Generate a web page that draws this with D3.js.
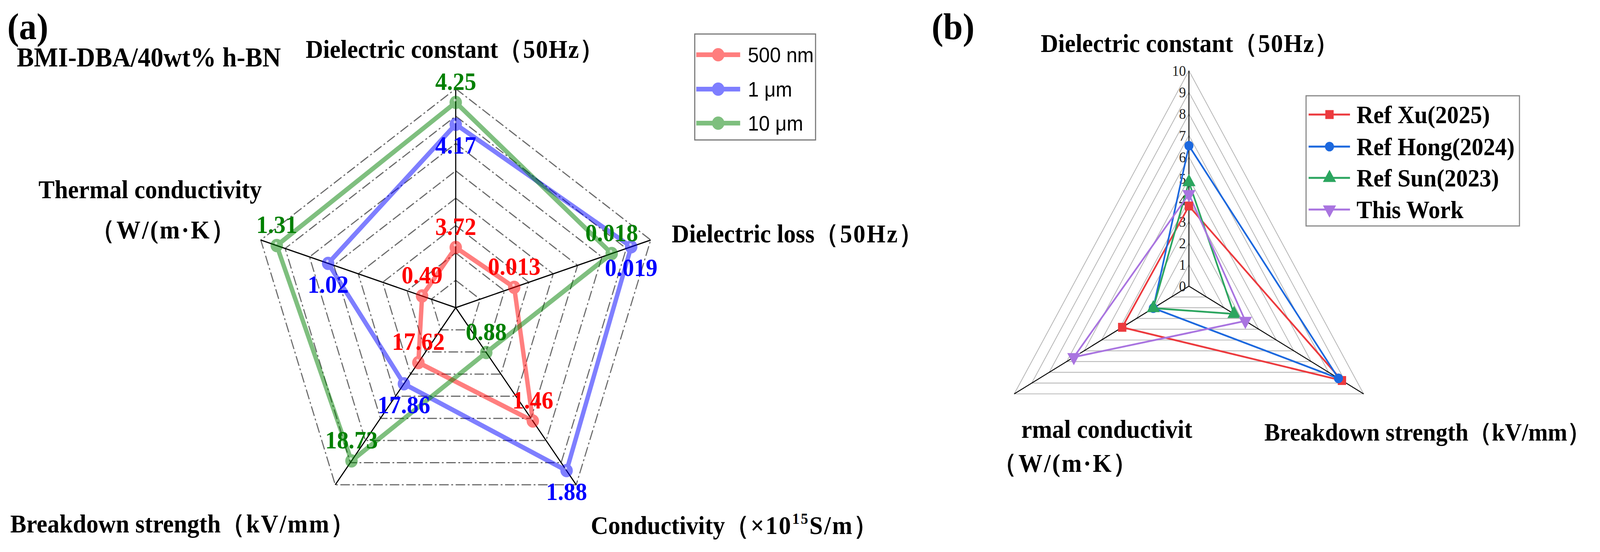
<!DOCTYPE html>
<html><head><meta charset="utf-8">
<script src="https://cdn.jsdelivr.net/npm/d3@7"></script>
<style>html,body{margin:0;padding:0;background:#fff;overflow:hidden}svg{display:block}</style>
</head><body>
<script>
// ---------------- Panel (a) data ----------------
const axesA = ["Dielectric constant", "Dielectric loss", "Conductivity", "Breakdown strength", "Thermal conductivity"];
const axisMinA = [3.5, 0.010, 0.5, 17, 0.3];
const axisMaxA = [4.3, 0.020, 2.0, 19, 1.4];
const ringCountA = 8;
const seriesA = ["500 nm", "1 μm", "10 μm"];
const values500nm = [3.72, 0.013, 1.46, 17.62, 0.49];
const values1um   = [4.17, 0.019, 1.88, 17.86, 1.02];
const values10um  = [4.25, 0.018, 0.88, 18.73, 1.31];

// ---------------- Panel (b) data ----------------
const axesB = ["Dielectric constant", "Breakdown strength", "Thermal conductivity"];
const ticksB = [0, 1, 2, 3, 4, 5, 6, 7, 8, 9, 10];
const seriesB = ["Ref Xu(2025)", "Ref Hong(2024)", "Ref Sun(2023)", "This Work"];
const valuesXu       = [3.72, 8.76, 3.82];
const valuesHong     = [6.52, 8.56, 2.04];
const valuesSun      = [4.83, 2.58, 2.04];
const valuesThisWork = [4.27, 3.23, 6.59];

// ---------------- setup ----------------
const W = 4371, H = 1412;
const serif = "'Liberation Serif','Times New Roman',serif";
const sans = "'Liberation Sans',Arial,sans-serif";
const vw = window.innerWidth || W, vh = window.innerHeight || H;
const svg = d3.select("body").append("svg").attr("width", vw).attr("height", vh)
  .attr("viewBox", `0 0 ${W} ${H}`).attr("preserveAspectRatio", "none")
  .style("background", "#fff");

const rad = d => d * Math.PI / 180;
const polyLine = d3.line().x(d => d[0]).y(d => d[1]).curve(d3.curveLinearClosed);

// bold serif label; optional parenthetical part drawn slightly more open
function label(g, x, y, main, paren, size = 66, spacing = 3.5) {
  const t = g.append("text").attr("x", x).attr("y", y)
    .attr("font-family", serif).attr("font-weight", "bold").attr("font-size", size)
    .attr("fill", "#000").text(main);
  if (paren) t.append("tspan").attr("letter-spacing", spacing).text(paren);
  return t;
}

// ================= Panel (a) =================
const A = {cx: 1245, cy: 787, R: 560};
const angA = axesA.map((d, i) => rad(-90 + i * 72));
const scalesA = axesA.map((d, i) => d3.scaleLinear().domain([axisMinA[i], axisMaxA[i]]).range([0, A.R]));
const ringA = d3.scaleLinear().domain([0, ringCountA]).range([0, A.R]);
const gA = svg.append("g");

gA.append("g").selectAll("path").data(d3.range(1, ringCountA + 1)).join("path")
  .attr("d", k => polyLine(angA.map(a => [A.cx + ringA(k) * Math.cos(a), A.cy + ringA(k) * Math.sin(a)])))
  .attr("fill", "none").attr("stroke", "#6a6a6a").attr("stroke-width", 3)
  .attr("stroke-dasharray", "26 7 5 7");
gA.append("g").selectAll("line").data(angA).join("line")
  .attr("x1", A.cx).attr("y1", A.cy)
  .attr("x2", a => A.cx + A.R * Math.cos(a)).attr("y2", a => A.cy + A.R * Math.sin(a))
  .attr("stroke", "#000").attr("stroke-width", 3);

const colA = ["#ff0000", "#0000ff", "#008000"];
const dataA = [values500nm, values1um, values10um];
const labelDy = [-32, 75, -32];
const ptA = (vals) => vals.map((v, i) => [A.cx + scalesA[i](v) * Math.cos(angA[i]), A.cy + scalesA[i](v) * Math.sin(angA[i])]);

dataA.forEach((vals, s) => {
  const g = gA.append("g").attr("opacity", 0.5);
  const pts = ptA(vals);
  g.append("path").attr("d", polyLine(pts)).attr("fill", "none")
    .attr("stroke", colA[s]).attr("stroke-width", 12).attr("stroke-linejoin", "round");
  g.selectAll("circle").data(pts).join("circle")
    .attr("cx", d => d[0]).attr("cy", d => d[1]).attr("r", 17).attr("fill", colA[s]);
});
dataA.forEach((vals) => {
  gA.append("g").selectAll("circle").data(ptA(vals)).join("circle")
    .attr("cx", d => d[0] - 2).attr("cy", d => d[1] - 6).attr("r", 3.5)
    .attr("fill", "#fff").attr("opacity", 0.6);
});
dataA.forEach((vals, s) => {
  gA.append("g").selectAll("text").data(ptA(vals)).join("text")
    .attr("x", d => d[0]).attr("y", (d) => d[1] + labelDy[s])
    .attr("text-anchor", "middle").attr("font-family", serif).attr("font-weight", "bold")
    .attr("font-size", 64).attr("fill", colA[s])
    .text((d, i) => String(vals[i]));
});

label(gA, 20, 100, "(a)", null, 96);
label(gA, 46, 170, "BMI-DBA/40wt% h-BN", null, 70);
label(gA, 835, 148, "Dielectric constant", "（50Hz）", 66, 2);
label(gA, 1835, 620, "Dielectric loss", "（50Hz）");
label(gA, 105, 507, "Thermal conductivity", null);
label(gA, 248, 610, "", "（W/(m·K）", 66, 4);
label(gA, 28, 1362, "Breakdown strength", "（kV/mm）");
const cond = label(gA, 1614, 1366, "Conductivity", "（×10");
cond.append("tspan").attr("font-size", 40).attr("dy", -26).attr("letter-spacing", 3.5).text("15");
cond.append("tspan").attr("dy", 26).attr("letter-spacing", 3.5).text("S/m）");

const LA = {x: 1898, y: 87, w: 330, h: 271, rows: [140, 228, 315]};
gA.append("rect").attr("x", LA.x).attr("y", LA.y).attr("width", LA.w).attr("height", LA.h)
  .attr("fill", "#fff").attr("stroke", "#777").attr("stroke-width", 3);
seriesA.forEach((name, s) => {
  const y = LA.rows[s];
  const g = gA.append("g").attr("opacity", 0.5);
  g.append("line").attr("x1", LA.x + 4).attr("x2", LA.x + 124).attr("y1", y).attr("y2", y)
    .attr("stroke", colA[s]).attr("stroke-width", 12);
  g.append("circle").attr("cx", LA.x + 64).attr("cy", y).attr("r", 17).attr("fill", colA[s]);
  gA.append("text").attr("x", LA.x + 145).attr("y", y + 19).attr("font-family", sans)
    .attr("font-size", 54).attr("fill", "#000").text(name);
});

// ================= Panel (b) =================
const B = {cx: 3248, cy: 732, R: 551};
const angB = [rad(-90), rad(30), rad(150)];
const rB = d3.scaleLinear().domain([0, 10]).range([0, B.R]);
const gB = svg.append("g");

gB.append("g").selectAll("path").data(ticksB.slice(1)).join("path")
  .attr("d", k => polyLine(angB.map(a => [B.cx + rB(k) * Math.cos(a), B.cy + rB(k) * Math.sin(a)])))
  .attr("fill", "none").attr("stroke", "#b8b8b8").attr("stroke-width", 2.2);
gB.append("g").selectAll("line").data(angB).join("line")
  .attr("x1", B.cx).attr("y1", B.cy)
  .attr("x2", a => B.cx + B.R * Math.cos(a)).attr("y2", a => B.cy + B.R * Math.sin(a))
  .attr("stroke", "#000").attr("stroke-width", 2.5);
gB.append("g").selectAll("text").data(ticksB).join("text")
  .attr("x", B.cx - 8).attr("y", k => B.cy - rB(k)).attr("dy", "0.35em")
  .attr("text-anchor", "end").attr("font-family", serif).attr("font-size", 38)
  .attr("fill", "#222").text(k => k);

const colB = ["#ec3a3e", "#1c68de", "#2ba55f", "#a974e0"];
const dataB = [valuesXu, valuesHong, valuesSun, valuesThisWork];
const symB = [d3.symbolSquare, d3.symbolCircle, d3.symbolTriangle, d3.symbolTriangle];
const symRot = [0, 0, 0, 180];
const symSize = [520, 480, 560, 560];
const ptB = vals => vals.map((v, i) => [B.cx + rB(v) * Math.cos(angB[i]), B.cy + rB(v) * Math.sin(angB[i])]);

dataB.forEach((vals, s) => {
  gB.append("path").attr("d", polyLine(ptB(vals))).attr("fill", "none")
    .attr("stroke", colB[s]).attr("stroke-width", 4.5).attr("stroke-linejoin", "round");
});
dataB.forEach((vals, s) => {
  gB.append("g").selectAll("path").data(ptB(vals)).join("path")
    .attr("transform", d => `translate(${d[0]},${d[1]}) rotate(${symRot[s]})`)
    .attr("d", d3.symbol().type(symB[s]).size(symSize[s])).attr("fill", colB[s]);
});

label(gB, 2545, 100, "(b)", null, 96);
label(gB, 2843, 133, "Dielectric constant", "（50Hz）", 66, 2);
label(gB, 2790, 1120, "rmal conductivit", null);
label(gB, 2712, 1207, "", "（W/(m·K）", 66, 4);
label(gB, 3454, 1127, "Breakdown strength", "（kV/mm）", 64, 0);

const LB = {x: 3568, y: 245, w: 583, h: 333, rows: [293, 375, 455, 536]};
gB.append("rect").attr("x", LB.x).attr("y", LB.y).attr("width", LB.w).attr("height", LB.h)
  .attr("fill", "#fff").attr("stroke", "#888").attr("stroke-width", 3);
seriesB.forEach((name, s) => {
  const y = LB.rows[s];
  gB.append("line").attr("x1", LB.x + 7).attr("x2", LB.x + 120).attr("y1", y).attr("y2", y)
    .attr("stroke", colB[s]).attr("stroke-width", 5);
  gB.append("path").attr("transform", `translate(${LB.x + 64},${y}) rotate(${symRot[s]})`)
    .attr("d", d3.symbol().type(symB[s]).size(symSize[s])).attr("fill", colB[s]);
  gB.append("text").attr("x", LB.x + 138).attr("y", y + 22).attr("font-family", serif)
    .attr("font-weight", "bold").attr("font-size", 64).attr("fill", "#000").text(name);
});
</script>
</body></html>
